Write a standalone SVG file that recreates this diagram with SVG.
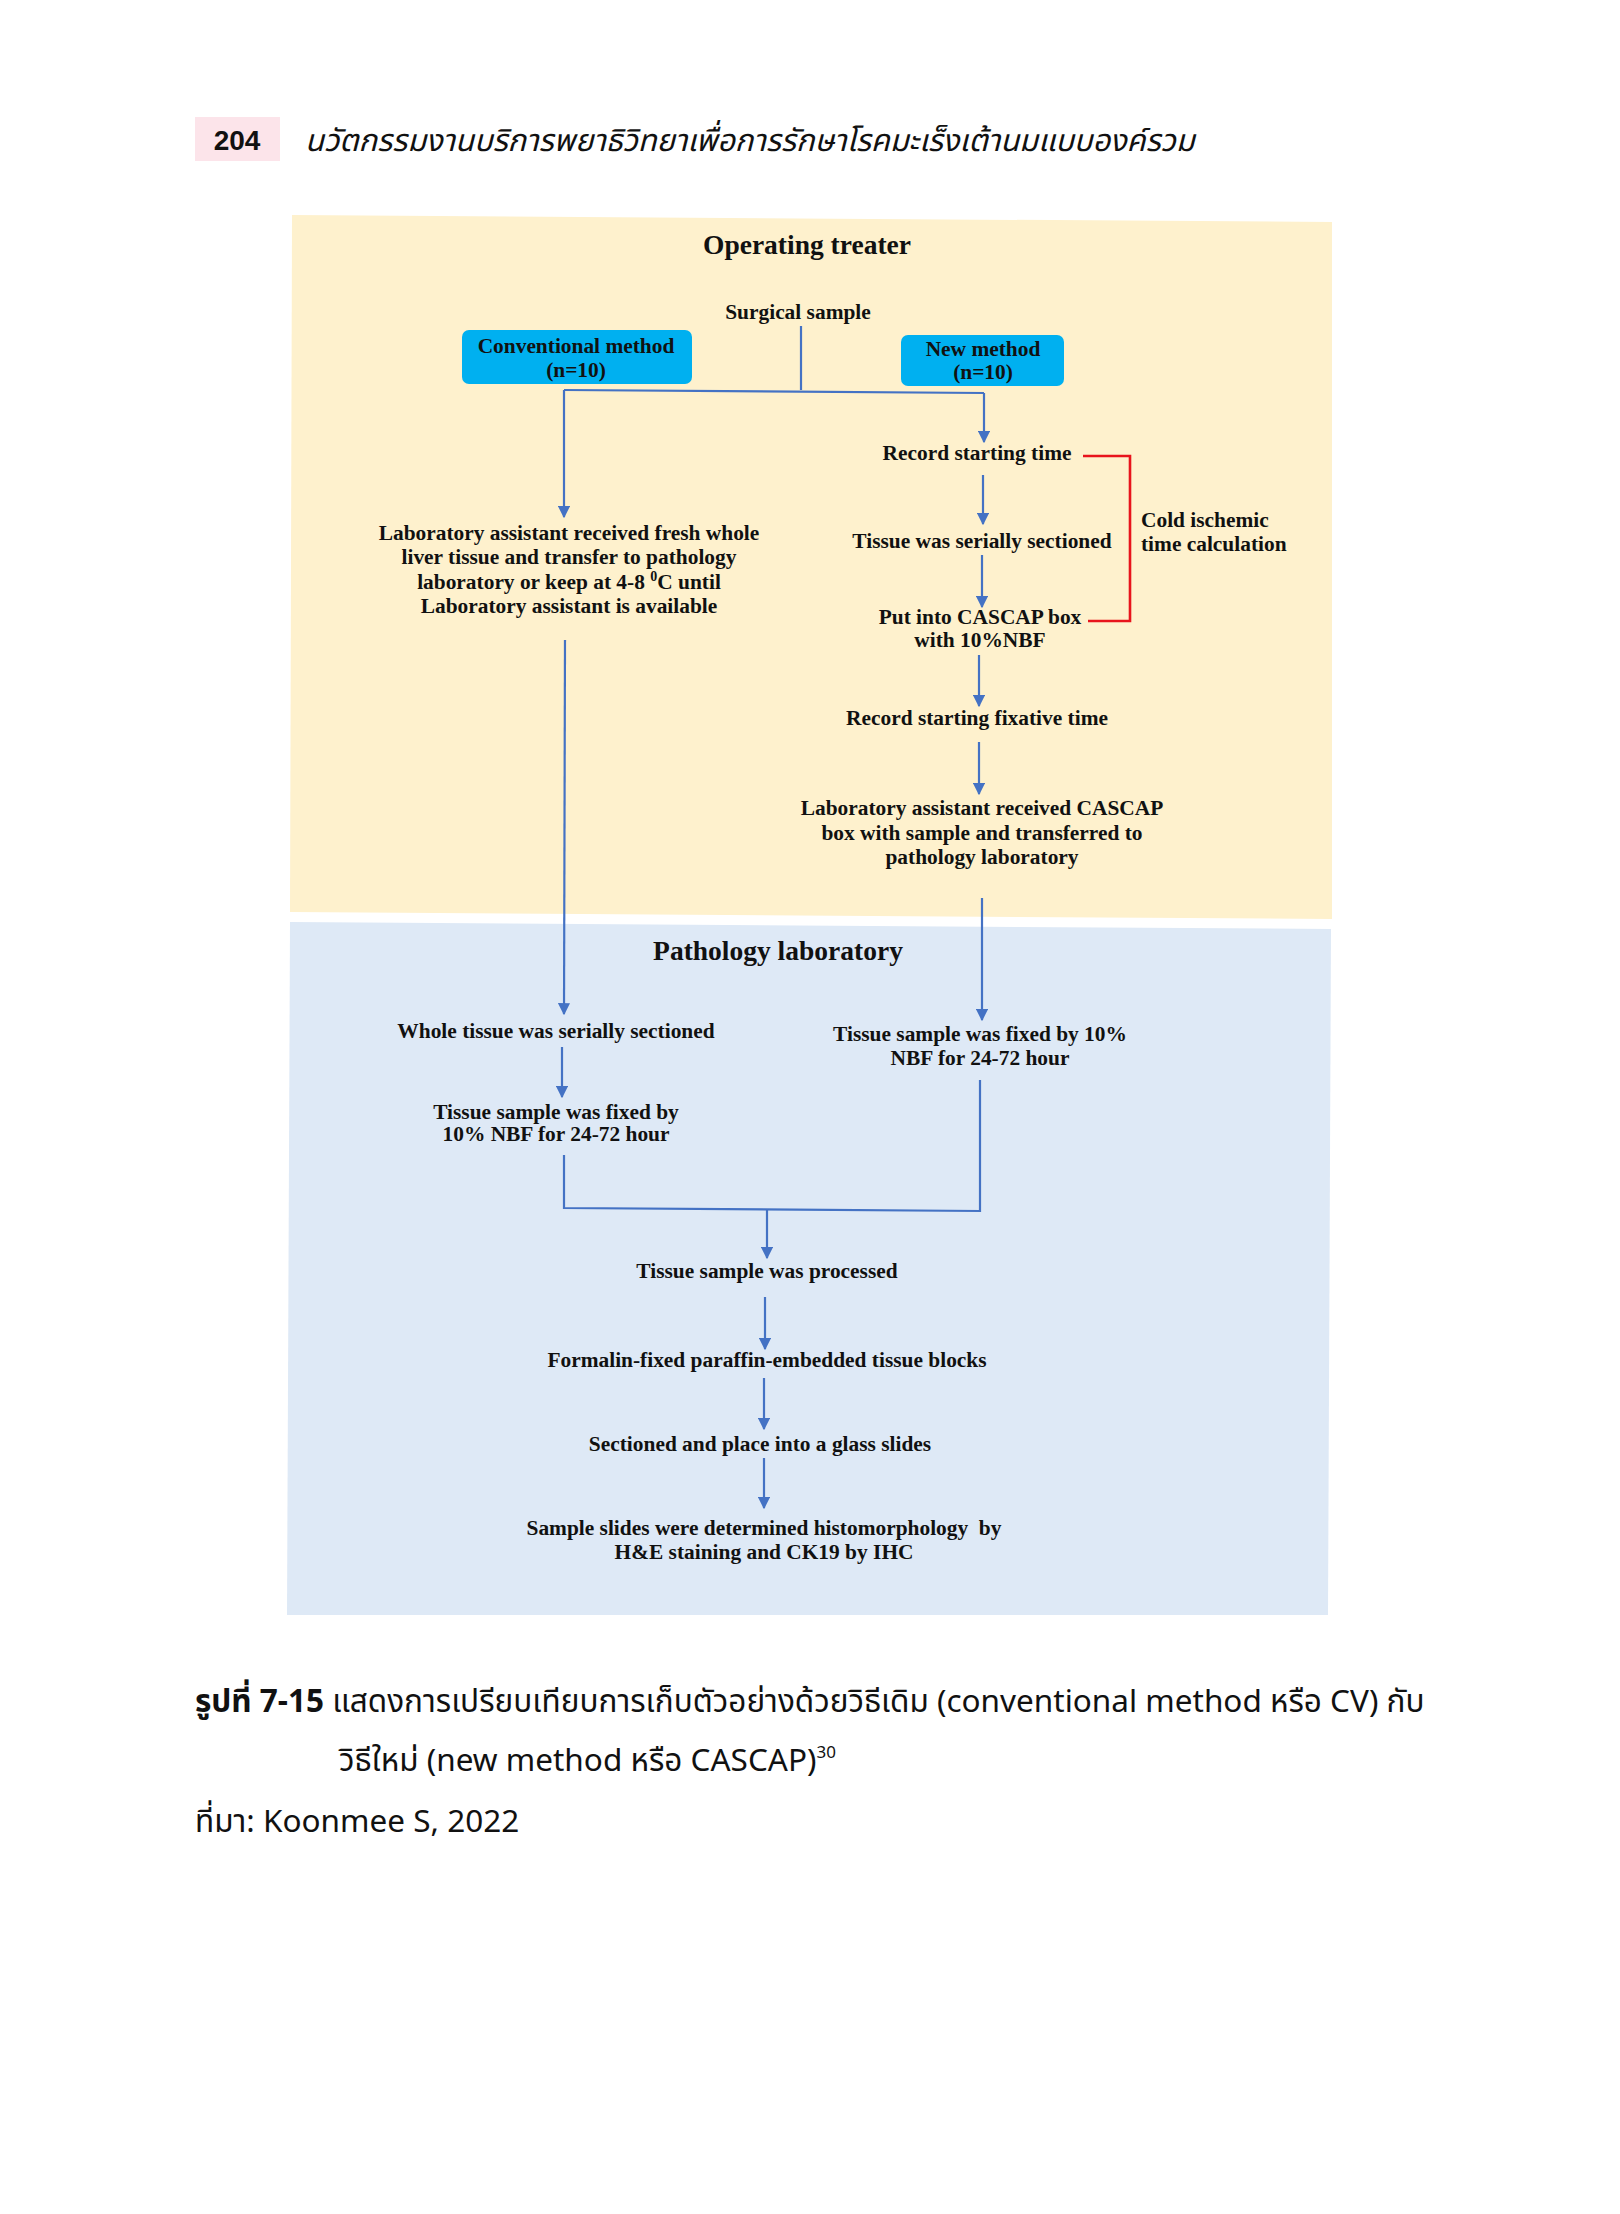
<svg xmlns="http://www.w3.org/2000/svg" width="1620" height="2214" viewBox="0 0 1620 2214">
<defs>
<style>
.t{font-family:"Liberation Serif","Times New Roman",serif;font-weight:bold;font-size:21.4px;fill:#111;text-anchor:middle}
.h{font-size:27.5px}
.bx{fill:#00b0f0}
.c{fill:none;stroke:#4472c4;stroke-width:2.2}
.r{fill:none;stroke:#e8141c;stroke-width:2.6}
.th{font-family:"Noto Sans Thai","Noto Sans","DejaVu Sans",sans-serif;fill:#111}
</style>
<marker id="a" viewBox="0 0 10 10" refX="9" refY="5" markerWidth="5.5" markerHeight="5.5" orient="auto" markerUnits="strokeWidth">
<path d="M0,0 L10,5 L0,10 z" fill="#4472c4"/>
</marker>
</defs>
<rect width="1620" height="2214" fill="#fff"/>
<g id="header">
<rect x="195" y="117" width="85" height="44" fill="#fce4ea"/>
<text x="237" y="150" style="font-family:'Liberation Sans',Arial,sans-serif;font-weight:bold;font-size:28px;text-anchor:middle;fill:#111">204</text>
<text class="th" x="305" y="151" style="font-style:italic;font-size:30.8px">นวัตกรรมงานบริการพยาธิวิทยาเพื่อการรักษาโรคมะเร็งเต้านมแบบองค์รวม</text>
</g>
<g id="panels">
<polygon points="292,215 1332,222 1332,919 290,912" fill="#fef1cd"/>
<polygon points="290,922 1331,929 1328,1615 287,1615" fill="#dee9f6"/>
</g>
<g id="connectors">
<path class="c" d="M801,326 L801,390"/>
<path class="c" d="M564,390 L984,393"/>
<path class="c" d="M564,390 L564,517" marker-end="url(#a)"/>
<path class="c" d="M984,393 L984,442" marker-end="url(#a)"/>
<path class="c" d="M983,475 L983,524" marker-end="url(#a)"/>
<path class="c" d="M982,555 L982,607" marker-end="url(#a)"/>
<path class="c" d="M979,655 L979,706" marker-end="url(#a)"/>
<path class="c" d="M979,742 L979,794" marker-end="url(#a)"/>
<path class="c" d="M982,898 L982,1020" marker-end="url(#a)"/>
<path class="c" d="M565,640 L564,1014" marker-end="url(#a)"/>
<path class="c" d="M562,1047 L562,1097" marker-end="url(#a)"/>
<path class="c" d="M564,1155 L564,1208 L980,1211 L980,1080"/>
<path class="c" d="M767,1209 L767,1258" marker-end="url(#a)"/>
<path class="c" d="M765,1297 L765,1349" marker-end="url(#a)"/>
<path class="c" d="M764,1378 L764,1429" marker-end="url(#a)"/>
<path class="c" d="M764,1458 L764,1508" marker-end="url(#a)"/>
<path class="r" d="M1083,456 L1130,456 L1130,621 L1088,621"/>
</g>
<g id="title-operating"><text class="t h" x="807" y="254">Operating treater</text></g>
<g id="surgical"><text class="t" x="798" y="319">Surgical sample</text></g>
<g id="conventional">
<rect class="bx" x="462" y="330" width="230" height="54" rx="7"/>
<text class="t" x="576" y="353">Conventional method</text>
<text class="t" x="576" y="377">(n=10)</text>
</g>
<g id="newmethod">
<rect class="bx" x="901" y="335" width="163" height="51" rx="7"/>
<text class="t" x="983" y="356">New method</text>
<text class="t" x="983" y="379">(n=10)</text>
</g>
<g id="record-start"><text class="t" x="977" y="460">Record starting time</text></g>
<g id="serial"><text class="t" x="982" y="548">Tissue was serially sectioned</text></g>
<g id="cascap">
<text class="t" x="980" y="624">Put into CASCAP box</text>
<text class="t" x="980" y="647">with 10%NBF</text>
</g>
<g id="fixative"><text class="t" x="977" y="725">Record starting fixative time</text></g>
<g id="received-cascap">
<text class="t" x="982" y="815">Laboratory assistant received CASCAP</text>
<text class="t" x="982" y="840">box with sample and transferred to</text>
<text class="t" x="982" y="864">pathology laboratory</text>
</g>
<g id="cold">
<text class="t" x="1141" y="527" style="text-anchor:start">Cold ischemic</text>
<text class="t" x="1141" y="551" style="text-anchor:start">time calculation</text>
</g>
<g id="fresh">
<text class="t" x="569" y="540">Laboratory assistant received fresh whole</text>
<text class="t" x="569" y="564">liver tissue and transfer to pathology</text>
<text class="t" x="569" y="589">laboratory or keep at 4-8 <tspan font-size="14" dy="-8">0</tspan><tspan dy="8">C until</tspan></text>
<text class="t" x="569" y="613">Laboratory assistant is available</text>
</g>
<g id="title-pathology"><text class="t h" x="778" y="960">Pathology laboratory</text></g>
<g id="whole-serial"><text class="t" x="556" y="1038">Whole tissue was serially sectioned</text></g>
<g id="fixed-left">
<text class="t" x="556" y="1119">Tissue sample was fixed by</text>
<text class="t" x="556" y="1141">10% NBF for 24-72 hour</text>
</g>
<g id="fixed-right">
<text class="t" x="980" y="1041">Tissue sample was fixed by 10%</text>
<text class="t" x="980" y="1065">NBF for 24-72 hour</text>
</g>
<g id="processed"><text class="t" x="767" y="1278">Tissue sample was processed</text></g>
<g id="ffpe"><text class="t" x="767" y="1367">Formalin-fixed paraffin-embedded tissue blocks</text></g>
<g id="sectioned"><text class="t" x="760" y="1451">Sectioned and place into a glass slides</text></g>
<g id="slides">
<text class="t" x="764" y="1535" style="white-space:pre">Sample slides were determined histomorphology  by</text>
<text class="t" x="764" y="1559">H&amp;E staining and CK19 by IHC</text>
</g>
<g id="caption">
<text class="th" x="195" y="1712" style="font-size:31.5px"><tspan font-weight="bold">รูปที่ 7-15</tspan> แสดงการเปรียบเทียบการเก็บตัวอย่างด้วยวิธีเดิม (conventional method หรือ CV) กับ</text>
<text class="th" x="339" y="1771" style="font-size:31.5px">วิธีใหม่ (new method หรือ CASCAP)<tspan font-size="17" dy="-13">30</tspan></text>
<text class="th" x="195" y="1832" style="font-size:31.5px">ที่มา: Koonmee S, 2022</text>
</g>
</svg>
